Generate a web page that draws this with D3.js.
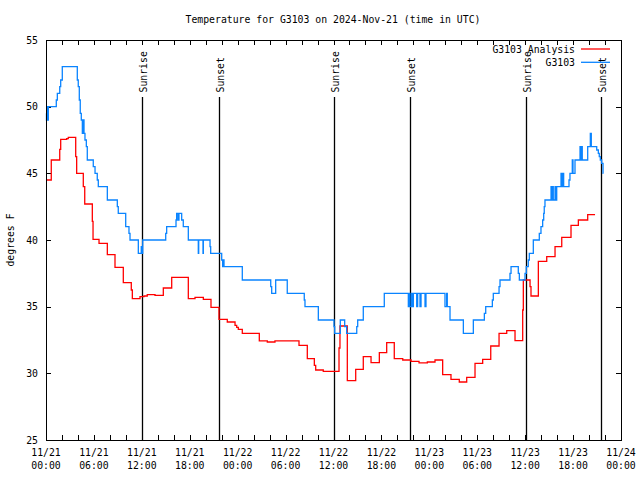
<!DOCTYPE html>
<html><head><meta charset="utf-8">
<script src="https://cdn.jsdelivr.net/npm/d3@7"></script>
<style>
body{margin:0;background:#fff;}
text{font-family:"DejaVu Sans Mono","Liberation Mono",monospace;font-size:9.8px;fill:#000;}
</style></head><body>
<svg id="c" width="640" height="480"></svg>
<script>
// ---- data (hours since 11/21 00:00 UTC, degrees F) ----
const titleText = "Temperature for G3103 on 2024-Nov-21 (time in UTC)";
const yLabel = "degrees F";
const seriesNames = ["G3103 Analysis", "G3103"];
const yTicks = [25, 30, 35, 40, 45, 50, 55];
const xTickHours = [0, 6, 12, 18, 24, 30, 36, 42, 48, 54, 60, 66, 72];
const xTickDates = ["11/21","11/21","11/21","11/21","11/22","11/22","11/22","11/22","11/23","11/23","11/23","11/23","11/24"];
const xTickTimes = ["00:00","06:00","12:00","18:00","00:00","06:00","12:00","18:00","00:00","06:00","12:00","18:00","00:00"];
const sunHours = [12.02, 21.66, 36.06, 45.58, 60.1, 69.5];
const sunLabels = ["Sunrise","Sunset","Sunrise","Sunset","Sunrise","Sunset"];

const obsTime = [0.00,0.06,0.13,0.21,0.29,1.29,1.42,1.72,1.84,2.04,3.92,4.04,4.17,4.29,4.42,4.55,4.63,4.76,4.88,5.05,5.17,5.92,6.14,6.42,6.55,7.68,8.93,9.05,9.98,10.39,10.52,11.56,11.93,12.06,12.11,14.99,15.11,16.28,16.36,16.53,16.65,16.99,17.19,17.82,19.07,19.12,19.66,19.70,20.54,20.62,22.00,22.12,22.20,22.29,24.58,28.14,28.26,28.76,30.21,32.34,32.43,34.10,36.06,36.15,36.85,37.40,37.65,38.91,39.03,39.73,42.36,45.37,45.49,45.58,45.79,45.87,46.00,46.42,46.54,46.83,46.96,47.46,47.58,49.96,50.17,50.25,50.59,52.26,53.51,54.89,55.06,55.89,56.01,56.73,56.85,58.10,58.23,59.14,59.27,59.98,60.14,60.39,60.52,61.02,61.77,61.98,62.19,62.32,62.39,62.48,63.24,63.32,63.44,63.52,63.74,63.86,63.95,64.49,64.61,64.74,64.82,65.49,65.61,65.90,65.99,66.24,66.87,67.00,67.08,67.15,67.83,68.16,68.28,68.96,69.16,69.28,69.41,69.58,69.75,69.80];
const obsTemp = [49.5,49,50,49,50,50.5,51,51.5,52,53,52,51.5,50.5,49.5,49,48,49,48,47.5,47,46,45.5,45,44.5,44,43,42.5,42,41,40.5,40,39,39.5,39,40,40.5,41,41.5,42,41.5,42,41.5,41,40,39,40,39,40,39.5,39,38.5,38,38.5,38,37,36.5,36,37,36,35.5,35,34,33.5,33,34,33.5,33,33.5,34,35,36,35,36,35,36,35,36,35,36,35,36,35,36,35,36,35,34,33,34,34.5,35,35.5,36,36.5,37,37.5,38,37.5,37,37.5,38,38.5,39,40,40.5,41,41.5,42,42.5,43,44,43,44,43,44,43,44,45,44,45,44,44.5,45,46,45,46,47,46,47,46,47,48,47,46.75,46.5,46.25,46,45.75,45,45];

const anaTime = [0.08,0.66,1.72,1.84,2.59,2.79,3.72,3.84,4.67,4.85,5.80,5.89,6.64,7.68,8.64,9.68,10.68,10.81,11.77,12.27,12.68,13.65,14.69,15.74,17.82,18.66,19.70,20.66,21.66,22.70,23.67,23.88,24.08,24.58,26.71,27.71,28.67,31.68,32.72,33.60,33.77,34.72,36.69,36.81,37.73,38.78,39.73,40.70,41.74,42.66,43.61,44.67,45.71,46.71,47.75,48.71,49.67,50.71,51.75,52.68,53.72,54.68,55.69,56.73,57.69,58.73,59.69,59.77,60.61,60.73,61.65,62.70,63.74,64.58,65.74,66.66,67.83,68.75];
const anaTemp = [44.5,46,46.8,47.55,47.6,47.7,46.25,45,44,42.7,41.4,40.05,39.75,38.9,37.95,36.8,36.25,35.6,35.75,35.8,35.9,35.85,36.4,37.2,35.6,35.7,35.55,34.95,34.05,33.85,33.6,33.45,33.3,33.0,32.43,32.35,32.43,32.1,31.1,30.6,30.25,30.15,31.9,33.55,29.45,30.3,31.25,30.8,31.55,32.3,31.1,31.0,30.9,30.78,30.85,31.0,29.9,29.55,29.35,29.7,30.75,31.05,32.05,33.0,33.2,32.45,34.75,37,36.5,35.8,38.4,38.75,39.5,40.2,41.1,41.5,41.9,41.9];

// ---- layout ----
const L = 46, R = 621, T = 40, B = 440;
const svg = d3.select("#c");
const x = d3.scaleLinear().domain([0, 72]).range([L, R]);
const y = d3.scaleLinear().domain([25, 55]).range([B, T]);

// title
svg.append("text").attr("x", 333).attr("y", 23).attr("text-anchor", "middle").text(titleText);

// y label
svg.append("text").attr("transform", "translate(14,240) rotate(-90)").attr("text-anchor", "middle").text(yLabel);

// axes ticks
const minorX = d3.range(0, 73, 2);
const g = svg.append("g").attr("shape-rendering", "crispEdges");
g.append("g").attr("transform", `translate(0,${B})`).call(d3.axisBottom(x).tickValues(minorX).tickSize(-5).tickFormat(""));
g.append("g").attr("transform", `translate(0,${T})`).call(d3.axisTop(x).tickValues(minorX).tickSize(-5).tickFormat(""));
g.append("g").attr("transform", `translate(${L},0)`).call(d3.axisLeft(y).tickValues(yTicks).tickSize(-5).tickFormat(""));
g.append("g").attr("transform", `translate(${R},0)`).call(d3.axisRight(y).tickValues(yTicks).tickSize(-5).tickFormat(""));
g.selectAll(".domain").remove();
g.selectAll(".tick line").attr("stroke", "#000");

// y tick labels
svg.selectAll(".ylab").data(yTicks).enter().append("text")
  .attr("x", 38).attr("y", d => y(d) + 3.5).attr("text-anchor", "end").text(d => d);

// x tick labels
xTickHours.forEach((h, i) => {
  svg.append("text").attr("x", x(h)).attr("y", 456).attr("text-anchor", "middle").text(xTickDates[i]);
  svg.append("text").attr("x", x(h)).attr("y", 469).attr("text-anchor", "middle").text(xTickTimes[i]);
});

// sunrise / sunset markers
sunHours.forEach((h, i) => {
  const px = Math.round(x(h)) + 0.5;
  svg.append("line").attr("x1", px).attr("x2", px).attr("y1", B).attr("y2", 97)
    .attr("stroke", "#000").attr("stroke-width", 1.3);
  svg.append("text").attr("transform", `translate(${px + 4},92.5) rotate(-90)`).attr("text-anchor", "start").text(sunLabels[i]);
});

// series
const line = d3.line().x(d => x(d[0])).y(d => y(d[1])).curve(d3.curveStepAfter);
const ana = d3.zip(anaTime, anaTemp);
const obs = d3.zip(obsTime, obsTemp);
svg.append("path").datum(ana).attr("d", line).attr("fill", "none").attr("stroke", "#ff0000").attr("stroke-width", 1.3);
svg.append("path").datum(obs).attr("d", line).attr("fill", "none").attr("stroke", "#0a84ff").attr("stroke-width", 1.3);

// legend
const legColors = ["#ff0000", "#0a84ff"];
seriesNames.forEach((n, i) => {
  const yy = 49 + i * 13.3;
  svg.append("text").attr("x", 575).attr("y", yy + 3.5).attr("text-anchor", "end").text(n);
  svg.append("line").attr("x1", 581).attr("x2", 610).attr("y1", yy).attr("y2", yy).attr("stroke", legColors[i]).attr("stroke-width", 1.3);
});

// frame
svg.append("rect").attr("x", L + 0.5).attr("y", T + 0.5).attr("width", R - L).attr("height", B - T)
  .attr("fill", "none").attr("stroke", "#000").attr("shape-rendering", "crispEdges");
</script>
</body></html>
